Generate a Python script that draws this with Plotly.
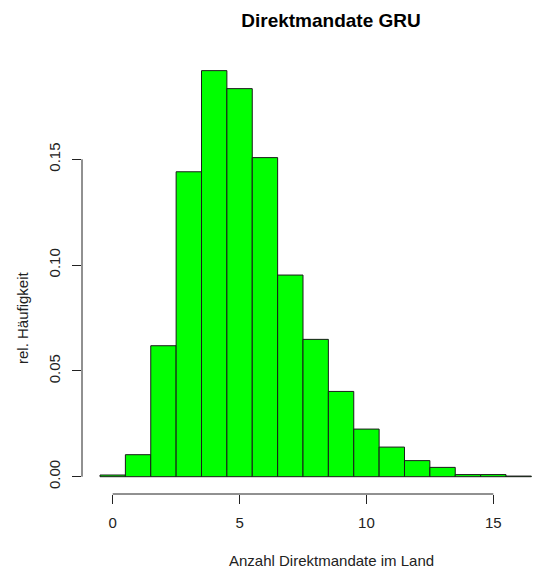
import plotly.graph_objects as go

# Data: bin centres (integers, bins of width 1) and relative frequencies
mandate_counts = list(range(0, 17))
rel_freq = [0.0008, 0.0104, 0.0619, 0.1441, 0.1919, 0.1834, 0.1508, 0.0953,
            0.0649, 0.0403, 0.0225, 0.0140, 0.0076, 0.0044, 0.0010, 0.0010, 0.0003]
x_ticks = [0, 5, 10, 15]
y_ticks = [0.00, 0.05, 0.10, 0.15]
y_tick_labels = ["0.00", "0.05", "0.10", "0.15"]

title = "Direktmandate GRU"
x_title = "Anzahl Direktmandate im Land"
y_title = "rel. Häufigkeit"

W, H = 555, 571
ml, mr, mt, mb = 82, 4, 40, 77
font = "Liberation Sans, Arial, sans-serif"

# axis ranges chosen so that x=0 -> 112.7px, x=15 -> 493.3px; y=0 -> 476.7px, 0.15 -> 159.3px
pxu_x = (493.3 - 112.7) / 15
xr = [(ml - 112.7) / pxu_x, (W - mr - 112.7) / pxu_x]
pxu_y = (476.7 - 159.3) / 0.15
yr = [-(H - mb - 476.7) / pxu_y, (476.7 - mt) / pxu_y]

fig = go.Figure(go.Bar(
    x=mandate_counts, y=rel_freq, width=1,
    marker=dict(color="#00FF00", line=dict(color="#1a1a1a", width=1)),
))

fig.update_layout(
    width=W, height=H,
    margin=dict(l=ml, r=mr, t=mt, b=mb),
    paper_bgcolor="white", plot_bgcolor="white",
    showlegend=False,
    font=dict(family=font, size=15, color="#222222"),
    title=dict(text="<b>" + title + "</b>", x=331 / W, xref="container", xanchor="center",
               y=1 - 20 / H, yref="container", yanchor="middle",
               font=dict(family=font, size=19, color="black")),
    xaxis=dict(range=xr, tickvals=x_ticks, ticks="outside", ticklen=9, tickcolor="#222222",
               showgrid=False, zeroline=False, showline=False,
               tickfont=dict(size=15), ticklabelstandoff=6),
    yaxis=dict(range=yr, tickvals=y_ticks, ticktext=y_tick_labels, ticks="outside", ticklen=9,
               tickcolor="#222222", tickangle=-90,
               showgrid=False, zeroline=False, showline=False,
               tickfont=dict(size=15), ticklabelstandoff=6),
    annotations=[
        dict(text=x_title, xref="paper", yref="paper", x=(331 - ml) / (W - ml - mr),
             y=-(560 - (H - mb)) / (H - mt - mb), xanchor="center", yanchor="middle",
             showarrow=False, font=dict(size=15, color="#222222")),
        dict(text=y_title, xref="paper", yref="paper", x=-(ml - 22) / (W - ml - mr),
             y=((H - mb) - 318) / (H - mt - mb), xanchor="center", yanchor="middle",
             textangle=-90, showarrow=False, font=dict(size=15, color="#222222")),
    ],
    shapes=[
        dict(type="line", xref="x", yref="paper", x0=x_ticks[0], x1=x_ticks[-1], y0=0, y1=0,
             line=dict(color="#222222", width=1)),
        dict(type="line", xref="paper", yref="y", x0=0, x1=0, y0=y_ticks[0], y1=y_ticks[-1],
             line=dict(color="#222222", width=1)),
    ],
)

fig.write_html("out.html")
